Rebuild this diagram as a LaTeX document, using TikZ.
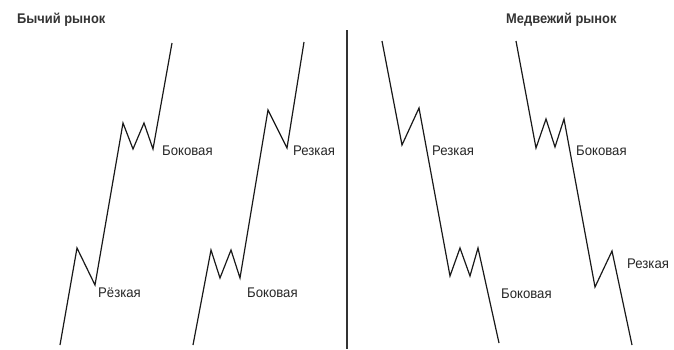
\documentclass[tikz,border=0pt]{standalone}
\usepackage{fontspec}
\setmainfont{Liberation Sans}
\newfontfamily\headfont{Liberation Sans}[FakeStretch=0.92]
\newfontfamily\phasefont{Liberation Sans}[FakeStretch=0.94]
\usetikzlibrary{positioning}
\tikzset{
  trend/.style={line width=1.2pt,line join=miter,black!90},
  divider/.style={line width=1.1pt,black!80},
  phase/.style={anchor=base west,inner sep=0pt,font=\phasefont\fontsize{14}{16}\selectfont,black!85},
  heading/.style={anchor=base west,inner sep=0pt,font=\headfont\bfseries\fontsize{14}{16}\selectfont,black!80}
}

\begin{document}
\begin{tikzpicture}[x=1pt,y=-1pt]
\useasboundingbox (0,0) rectangle (674,349);
% titles
\node[heading] (bull) at (17,23) {Бычий рынок};
\node[heading] (bear) at (506,23) {Медвежий рынок};
% divider between markets
\draw[divider] (347,30) -- (347,349);
% bull market, sharp then sideways
\draw[trend] (60,345) -- (77,248) -- (95,285) -- (123,123) -- (133,149)
  -- (144,123) -- (153,149) -- (172,43);
\node[phase] (bullsharp) at (98,297) {Рёзкая};
\node[phase] (bullside) at (162,155) {Боковая};
% bull market, sideways then sharp
\draw[trend] (193,345) -- (211,250) -- (220,278) -- (231,250) -- (240,278)
  -- (268,110) -- (287,148) -- (304,42);
\node[phase] (bullside2) at (247,297) {Боковая};
\node[phase] (bullsharp2) at (293,155) {Резкая};
% bear market, sharp then sideways
\draw[trend] (382,41) -- (402,145) -- (419,108) -- (450,276) -- (460,248)
  -- (470,276) -- (478,248) -- (499,343);
\node[phase] (bearsharp) at (432,155) {Резкая};
\node[phase] (bearside) at (501,298) {Боковая};
% bear market, sideways then sharp
\draw[trend] (516,41) -- (536,148) -- (546,119) -- (555,147) -- (564,119)
  -- (595,287) -- (612,251) -- (632,345);
\node[phase] (bearside2) at (576,155) {Боковая};
\node[phase] (bearsharp2) at (627,268) {Резкая};
\end{tikzpicture}
\end{document}
